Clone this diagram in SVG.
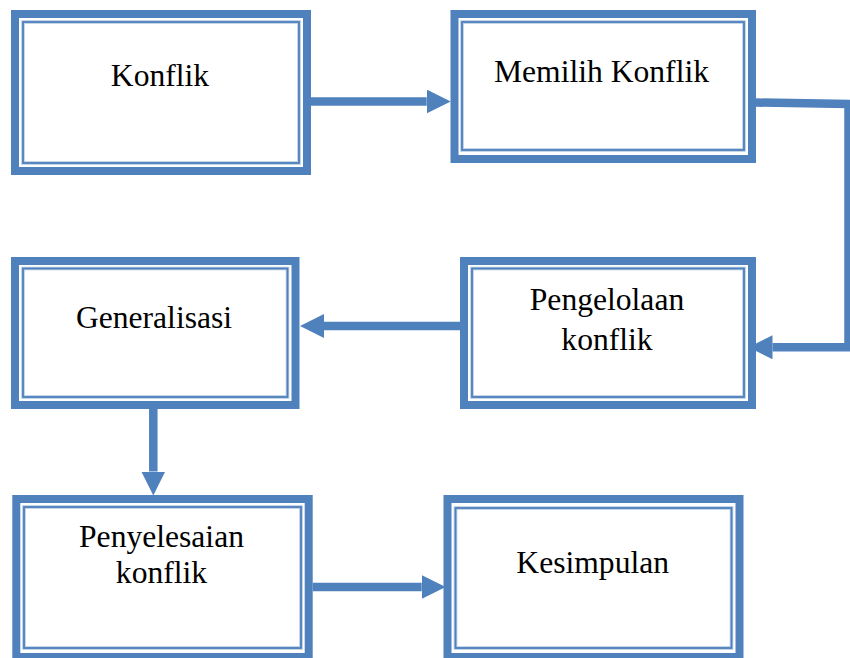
<svg xmlns="http://www.w3.org/2000/svg" width="850" height="658" viewBox="0 0 850 658">
<defs>
<style>
.outer{fill:#ffffff;stroke:#4f81bd;stroke-width:8}
.halo{fill:none;stroke:#b8cce4;stroke-width:3.6}
.inner{fill:none;stroke:#4f81bd;stroke-width:1.8}
.lbl{font-family:"Liberation Serif","Times New Roman",serif;font-size:31.6px;fill:#000000;text-anchor:middle}
.conn{fill:none;stroke:#4f81bd;stroke-width:8.5;stroke-linejoin:miter}
</style>
<marker id="ah" markerUnits="userSpaceOnUse" viewBox="0 0 24 24" refX="0" refY="12" markerWidth="24" markerHeight="24" orient="auto">
<polygon points="0,0 24,12 0,24" fill="#4f81bd"/>
</marker>
</defs>
<rect width="850" height="658" fill="#ffffff"/>
<g id="connectors">
<path class="conn" d="M311,101.5 H426.7" marker-end="url(#ah)"/>
<path class="conn" d="M756,102.5 L848.5,104 V347.3 H772.5" marker-end="url(#ah)"/>
<path class="conn" d="M460,326 H324" marker-end="url(#ah)"/>
<path class="conn" d="M153.3,409 V471.5" marker-end="url(#ah)"/>
<path class="conn" d="M312.7,587 H421.7" marker-end="url(#ah)"/>
</g>
<g id="node-konflik">
<rect class="outer" x="15" y="14" width="292" height="157"/>
<rect class="halo" x="23" y="22" width="276" height="141"/>
<rect class="inner" x="23" y="22" width="276" height="141"/>
<text class="lbl" x="160" y="86">Konflik</text>
</g>
<g id="node-memilih">
<rect class="outer" x="454.5" y="14" width="297.5" height="145"/>
<rect class="halo" x="462" y="22" width="282" height="128"/>
<rect class="inner" x="462" y="22" width="282" height="128"/>
<text class="lbl" x="601.5" y="82">Memilih Konflik</text>
</g>
<g id="node-pengelolaan">
<rect class="outer" x="464" y="261" width="288" height="144"/>
<rect class="halo" x="472" y="268.5" width="272" height="128.5"/>
<rect class="inner" x="472" y="268.5" width="272" height="128.5"/>
<text class="lbl" x="607" y="310">Pengelolaan</text>
<text class="lbl" x="607" y="350">konflik</text>
</g>
<g id="node-generalisasi">
<rect class="outer" x="15" y="261" width="280.5" height="144"/>
<rect class="halo" x="23" y="268.5" width="264.5" height="128.5"/>
<rect class="inner" x="23" y="268.5" width="264.5" height="128.5"/>
<text class="lbl" x="154" y="328">Generalisasi</text>
</g>
<g id="node-penyelesaian">
<rect class="outer" x="16.3" y="499" width="292.4" height="158"/>
<rect class="halo" x="24" y="507" width="277" height="141"/>
<rect class="inner" x="24" y="507" width="277" height="141"/>
<text class="lbl" x="161.5" y="547">Penyelesaian</text>
<text class="lbl" x="161.5" y="583">konflik</text>
</g>
<g id="node-kesimpulan">
<rect class="outer" x="447.5" y="499" width="292" height="158"/>
<rect class="halo" x="455.5" y="508" width="276" height="140"/>
<rect class="inner" x="455.5" y="508" width="276" height="140"/>
<text class="lbl" x="592.7" y="573">Kesimpulan</text>
</g>
</svg>
